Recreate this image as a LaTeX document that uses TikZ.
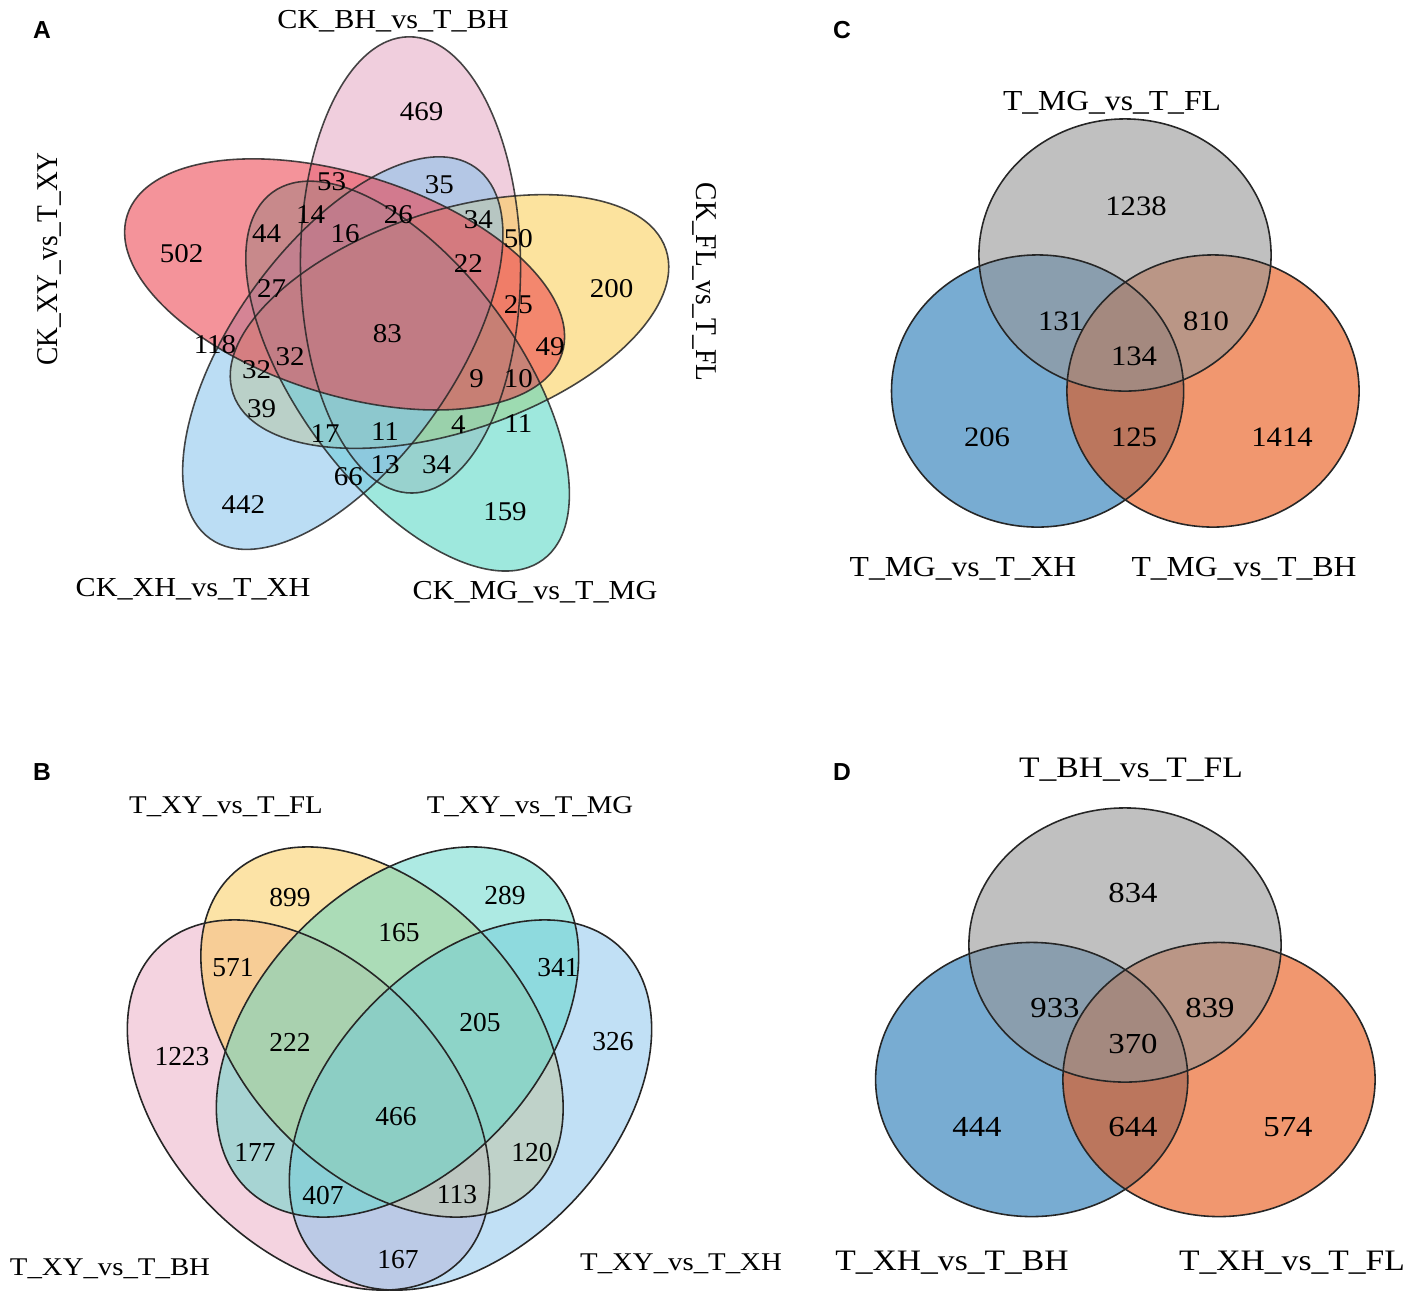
\documentclass[tikz,border=0pt]{standalone}
\usepackage{fontspec}
\setmainfont{Liberation Serif}
\newfontfamily\panelfont{Liberation Sans}
\definecolor{aRed}{RGB}{236,60,72}
\definecolor{aPink}{RGB}{228,166,194}
\definecolor{aYel}{RGB}{251,205,80}
\definecolor{aTeal}{RGB}{80,214,194}
\definecolor{aBlue}{RGB}{132,194,236}
\definecolor{bPink}{RGB}{235,169,195}
\definecolor{bYel}{RGB}{251,201,78}
\definecolor{bTeal}{RGB}{92,214,200}
\definecolor{bBlue}{RGB}{132,194,236}
\definecolor{cBlue}{RGB}{30,117,180}
\definecolor{cOrange}{RGB}{232,82,16}
\definecolor{cGray}{RGB}{150,150,150}
\begin{document}
\begin{tikzpicture}[x=0.01cm,y=-0.01cm,
  outline/.style={draw=black!85, line width=0.45pt},
  numA/.style={font=\fontsize{7.7}{9}\selectfont, xscale=1.07, inner sep=0pt},
  labA/.style={font=\fontsize{7.8}{9}\selectfont, xscale=1.1, inner sep=0pt, text depth=0pt},
  numB/.style={font=\fontsize{7.8}{9}\selectfont, inner sep=0pt},
  labB/.style={font=\fontsize{7.25}{9}\selectfont, xscale=1.13, inner sep=0pt, text depth=0pt},
  numC/.style={font=\fontsize{8}{9}\selectfont, xscale=1.09, inner sep=0pt},
  labC/.style={font=\fontsize{8.25}{9}\selectfont, xscale=1.09, inner sep=0pt, text depth=0pt},
  numD/.style={font=\fontsize{8.25}{9}\selectfont, xscale=1.13, inner sep=0pt},
  labD/.style={font=\fontsize{8.45}{9}\selectfont, xscale=1.13, inner sep=0pt, text depth=0pt},
  panel/.style={font=\panelfont\bfseries\fontsize{7}{8}\selectfont, inner sep=0pt}
]
\useasboundingbox (0,0) rectangle (1417,1302);
\fill[white] (0,0) rectangle (1417,1302);

% ---------------- Panel A : five ellipses ----------------
\foreach \cx/\cy/\ang/\col in {410.5/264.9/90.4/aPink, 449.5/321.5/18.4/aYel, 407.6/376.1/-53.6/aTeal, 342.8/353.1/54.4/aBlue, 344.6/284.4/-17.6/aRed}
  \fill[\col, fill opacity=0.55, rotate around={\ang:(\cx,\cy)}] (\cx,\cy) ellipse [x radius=2.28cm, y radius=1.10cm];
\foreach \cx/\cy/\ang in {410.5/264.9/90.4, 449.5/321.5/18.4, 407.6/376.1/-53.6, 342.8/353.1/54.4, 344.6/284.4/-17.6}
  \draw[outline, draw opacity=0.85, rotate around={\ang:(\cx,\cy)}] (\cx,\cy) ellipse [x radius=2.28cm, y radius=1.10cm];

\node[panel] (pA) at (42,30) {A};
\node[labA] (lBH) at (393,19) {CK\_BH\_vs\_T\_BH};
\node[labA, rotate=90] (lXY) at (48,259) {CK\_XY\_vs\_T\_XY};
\node[labA, rotate=-90] (lFL) at (706,282) {CK\_FL\_vs\_T\_FL};
\node[labA] (lXH) at (193,587) {CK\_XH\_vs\_T\_XH};
\node[labA] (lMG) at (535,590) {CK\_MG\_vs\_T\_MG};

\node[numA] (a502) at (181.7,253.3) {502};
\node[numA] (a469) at (421.7,111.7) {469};
\node[numA] (a53) at (331.7,181.7) {53};
\node[numA] (a35) at (439.3,185) {35};
\node[numA] (a44) at (266.7,233.3) {44};
\node[numA] (a14) at (310.7,215) {14};
\node[numA] (a16) at (345,233.3) {16};
\node[numA] (a26) at (398.3,215) {26};
\node[numA] (a34a) at (478.3,220) {34};
\node[numA] (a50) at (518.3,238.3) {50};
\node[numA] (a22) at (468.3,263.3) {22};
\node[numA] (a200) at (611.7,288.3) {200};
\node[numA] (a27) at (271.7,288.3) {27};
\node[numA] (a25) at (518.3,305) {25};
\node[numA] (a83) at (387.3,333.3) {83};
\node[numA] (a118) at (215,345) {118};
\node[numA] (a49) at (550,346.7) {49};
\node[numA] (a32a) at (256.7,370) {32};
\node[numA] (a32b) at (290,356.7) {32};
\node[numA] (a9) at (476.7,378.3) {9};
\node[numA] (a10) at (518.3,378.3) {10};
\node[numA] (a39) at (261.7,408.3) {39};
\node[numA] (a17) at (325,433.3) {17};
\node[numA] (a11a) at (385,431.7) {11};
\node[numA] (a4) at (458.3,425) {4};
\node[numA] (a11b) at (518.3,423.3) {11};
\node[numA] (a13) at (385,465) {13};
\node[numA] (a34b) at (436.7,465) {34};
\node[numA] (a66) at (348.3,476.7) {66};
\node[numA] (a442) at (243.3,505) {442};
\node[numA] (a159) at (505,511.7) {159};

% ---------------- Panel B : four ellipses ----------------
\foreach \cx/\cy/\ang/\col in {308.5/1105/-46.5/bPink, 382/1032/-46.5/bYel, 470.5/1105/46.5/bBlue, 397.5/1032/46.5/bTeal}
  \fill[\col, fill opacity=0.5, rotate around={\ang:(\cx,\cy)}] (\cx,\cy) ellipse [x radius=2.173cm, y radius=1.406cm];
\foreach \cx/\cy/\ang in {308.5/1105/-46.5, 382/1032/-46.5, 397.5/1032/46.5, 470.5/1105/46.5}
  \draw[outline, rotate around={\ang:(\cx,\cy)}] (\cx,\cy) ellipse [x radius=2.173cm, y radius=1.406cm];

\node[panel] (pB) at (42,772) {B};
\node[labB] (lbFL) at (226,805) {T\_XY\_vs\_T\_FL};
\node[labB] (lbMG) at (530,805) {T\_XY\_vs\_T\_MG};
\node[labB] (lbBH) at (110,1267) {T\_XY\_vs\_T\_BH};
\node[labB] (lbXH) at (681,1262) {T\_XY\_vs\_T\_XH};

\node[numB] (b899) at (290,897) {899};
\node[numB] (b289) at (505,895) {289};
\node[numB] (b165) at (399,933) {165};
\node[numB] (b571) at (233,968) {571};
\node[numB] (b341) at (558,968) {341};
\node[numB] (b205) at (480,1022) {205};
\node[numB] (b222) at (290,1042) {222};
\node[numB] (b326) at (613,1042) {326};
\node[numB] (b1223) at (182,1057) {1223};
\node[numB] (b466) at (396,1117) {466};
\node[numB] (b177) at (255,1152) {177};
\node[numB] (b120) at (532,1152) {120};
\node[numB] (b407) at (323,1195) {407};
\node[numB] (b113) at (457,1195) {113};
\node[numB] (b167) at (398,1260) {167};

% ---------------- Panel C : three circles ----------------
\fill[cBlue, fill opacity=0.6] (1037.6,391) ellipse [x radius=1.46cm, y radius=1.36cm];
\fill[cOrange, fill opacity=0.6] (1213,391) ellipse [x radius=1.46cm, y radius=1.36cm];
\fill[cGray, fill opacity=0.6] (1125,255) ellipse [x radius=1.46cm, y radius=1.36cm];
\draw[outline] (1037.6,391) ellipse [x radius=1.46cm, y radius=1.36cm];
\draw[outline] (1213,391) ellipse [x radius=1.46cm, y radius=1.36cm];
\draw[outline] (1125,255) ellipse [x radius=1.46cm, y radius=1.36cm];

\node[panel] (pC) at (842,30) {C};
\node[labC] (lcFL) at (1112,101) {T\_MG\_vs\_T\_FL};
\node[labC] (lcXH) at (963,567) {T\_MG\_vs\_T\_XH};
\node[labC] (lcBH) at (1244,567) {T\_MG\_vs\_T\_BH};
\node[numC] (c1238) at (1136,206) {1238};
\node[numC] (c131) at (1061,321) {131};
\node[numC] (c810) at (1206,321) {810};
\node[numC] (c134) at (1134,356) {134};
\node[numC] (c206) at (987,437) {206};
\node[numC] (c125) at (1134,437) {125};
\node[numC] (c1414) at (1282,437) {1414};

% ---------------- Panel D : three circles ----------------
\fill[cBlue, fill opacity=0.6] (1031.7,1079.5) ellipse [x radius=1.56cm, y radius=1.37cm];
\fill[cOrange, fill opacity=0.6] (1219,1079.5) ellipse [x radius=1.56cm, y radius=1.37cm];
\fill[cGray, fill opacity=0.6] (1125,945) ellipse [x radius=1.56cm, y radius=1.37cm];
\draw[outline] (1031.7,1079.5) ellipse [x radius=1.56cm, y radius=1.37cm];
\draw[outline] (1219,1079.5) ellipse [x radius=1.56cm, y radius=1.37cm];
\draw[outline] (1125,945) ellipse [x radius=1.56cm, y radius=1.37cm];

\node[panel] (pD) at (842,772) {D};
\node[labD] (ldFL) at (1131,768) {T\_BH\_vs\_T\_FL};
\node[labD] (ldBH) at (952,1261) {T\_XH\_vs\_T\_BH};
\node[labD] (ldXF) at (1292,1261) {T\_XH\_vs\_T\_FL};
\node[numD] (d834) at (1133,893) {834};
\node[numD] (d933) at (1055,1008) {933};
\node[numD] (d839) at (1210,1008) {839};
\node[numD] (d370) at (1133,1044) {370};
\node[numD] (d444) at (977,1127) {444};
\node[numD] (d644) at (1133,1127) {644};
\node[numD] (d574) at (1288,1127) {574};
\end{tikzpicture}
\end{document}
